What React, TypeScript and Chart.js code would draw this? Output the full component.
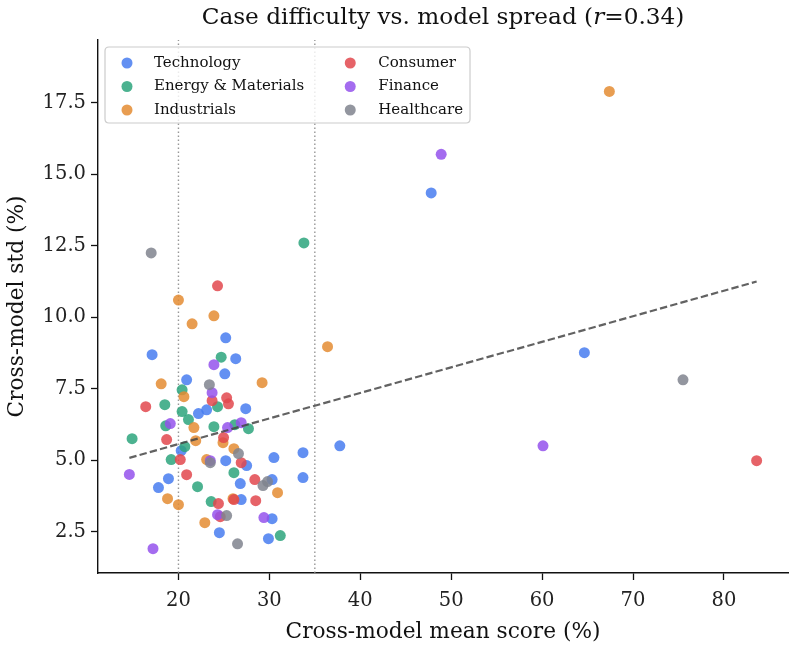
import React, { useEffect, useRef } from 'react';
import { Chart, registerables } from 'chart.js';
Chart.register(...registerables);

// ---- Data ----
const categories = ['Technology', 'Energy & Materials', 'Industrials', 'Consumer', 'Finance', 'Healthcare'];

const techMean = [47.8, 64.65, 37.75, 33.7, 33.7, 30.5, 17.1, 20.9, 25.2, 26.3, 25.1, 27.4, 22.2, 23.1, 20.3, 18.9, 17.8, 25.2, 27.5, 26.8, 30.3, 26.9, 30.3, 24.5, 29.9];
const techStd = [14.35, 8.76, 5.5, 5.26, 4.39, 5.09, 8.69, 7.81, 9.28, 8.55, 8.02, 6.8, 6.63, 6.76, 5.33, 4.35, 4.04, 4.98, 4.81, 4.18, 4.32, 3.62, 2.95, 2.46, 2.25];

const energyMean = [33.8, 14.9, 18.5, 20.4, 20.4, 21.1, 18.6, 23.9, 24.3, 19.2, 20.7, 22.1, 26.1, 23.6, 31.2, 26.2, 27.7, 24.7];
const energyStd = [12.6, 5.75, 6.94, 7.46, 6.7, 6.42, 6.2, 6.17, 6.87, 5.02, 5.47, 4.07, 4.56, 3.55, 2.36, 6.24, 6.1, 8.6];

const indMean = [67.4, 36.4, 20.0, 23.9, 21.5, 29.2, 18.1, 20.6, 21.7, 21.9, 23.1, 24.9, 26.1, 26.0, 30.9, 18.8, 20.0, 22.9];
const indStd = [17.9, 8.97, 10.6, 10.05, 9.77, 7.71, 7.67, 7.22, 6.14, 5.68, 5.02, 5.61, 5.4, 3.65, 3.86, 3.65, 3.44, 2.81];

const conMean = [83.6, 24.3, 16.4, 18.7, 20.2, 23.7, 25.3, 25.5, 24.96, 26.9, 20.9, 28.4, 28.5, 26.1, 24.4, 24.6];
const conStd = [4.98, 11.1, 6.87, 5.72, 5.02, 7.08, 7.18, 6.97, 5.79, 4.91, 4.49, 4.32, 3.58, 3.62, 3.48, 3.02];

const finMean = [48.9, 60.1, 14.6, 17.2, 19.1, 23.9, 23.7, 25.4, 26.9, 23.5, 24.3, 29.4];
const finStd = [15.7, 5.5, 4.5, 1.9, 6.28, 8.34, 7.36, 6.14, 6.31, 4.98, 3.09, 2.99];

const hcMean = [17.0, 75.5, 23.4, 26.6, 29.3, 29.8, 25.3, 26.5, 23.5];
const hcStd = [12.25, 7.81, 7.64, 5.23, 4.11, 4.25, 3.06, 2.07, 4.91];

const trendX = [14.6, 83.6];
const trendY = [5.08, 11.25];

const refLinesX = [20, 35];

const xTicks = [20, 30, 40, 50, 60, 70, 80];
const yTicks = [2.5, 5.0, 7.5, 10.0, 12.5, 15.0, 17.5];

const X_MIN = 11.15, X_MAX = 87.05, Y_MIN = 1.05, Y_MAX = 19.7;

const TITLE_PRE = 'Case difficulty vs. model spread (';
const TITLE_R = 'r';
const TITLE_POST = '=0.34)';
const X_LABEL = 'Cross-model mean score (%)';
const Y_LABEL = 'Cross-model std (%)';

const colors = [
  'rgba(72,125,240,0.85)',
  'rgba(45,165,125,0.85)',
  'rgba(228,140,50,0.85)',
  'rgba(226,72,78,0.85)',
  'rgba(148,82,236,0.85)',
  'rgba(128,132,142,0.85)',
];

const seriesX = [techMean, energyMean, indMean, conMean, finMean, hcMean];
const seriesY = [techStd, energyStd, indStd, conStd, finStd, hcStd];

const FONT = '"DejaVu Serif", serif';

const titlePlugin = {
  id: 'mixedTitle',
  afterDraw(chart: any) {
    const { ctx, chartArea } = chart;
    const size = 23.2;
    const parts = [
      { t: TITLE_PRE, f: `${size}px ${FONT}` },
      { t: TITLE_R, f: `italic ${size}px ${FONT}` },
      { t: TITLE_POST, f: `${size}px ${FONT}` },
    ];
    ctx.save();
    const widths = parts.map((p) => { ctx.font = p.f; return ctx.measureText(p.t).width; });
    const total = widths.reduce((a, b) => a + b, 0);
    let x = (chartArea.left + chartArea.right) / 2 - total / 2;
    ctx.textBaseline = 'middle';
    ctx.textAlign = 'left';
    ctx.fillStyle = '#111';
    parts.forEach((p, i) => {
      ctx.font = p.f;
      ctx.fillText(p.t, x, 18);
      x += widths[i];
    });
    ctx.restore();
  },
};

const legendPlugin = {
  id: 'customLegend',
  afterDraw(chart: any) {
    const { ctx, chartArea } = chart;
    const fsize = 15;
    ctx.save();
    ctx.font = `${fsize}px ${FONT}`;
    const left = chartArea.left + 7;
    const top = chartArea.top + 7;
    const rowH = 23.5;
    const col1 = [0, 1, 2];
    const col2 = [3, 4, 5];
    const w1 = Math.max(...col1.map((i) => ctx.measureText(categories[i]).width));
    const w2 = Math.max(...col2.map((i) => ctx.measureText(categories[i]).width));
    const marker1 = left + 22;
    const text1 = left + 49;
    const marker2 = text1 + w1 + 46;
    const text2 = marker2 + 28;
    const right = text2 + w2 + 7;
    const bottom = top + 76;
    const r = 4;
    ctx.beginPath();
    ctx.moveTo(left + r, top);
    ctx.lineTo(right - r, top);
    ctx.quadraticCurveTo(right, top, right, top + r);
    ctx.lineTo(right, bottom - r);
    ctx.quadraticCurveTo(right, bottom, right - r, bottom);
    ctx.lineTo(left + r, bottom);
    ctx.quadraticCurveTo(left, bottom, left, bottom - r);
    ctx.lineTo(left, top + r);
    ctx.quadraticCurveTo(left, top, left + r, top);
    ctx.closePath();
    ctx.fillStyle = 'rgba(255,255,255,0.8)';
    ctx.fill();
    ctx.strokeStyle = '#cccccc';
    ctx.lineWidth = 1.2;
    ctx.stroke();
    ctx.textBaseline = 'middle';
    ctx.textAlign = 'left';
    const drawItem = (i: number, mx: number, tx: number, row: number) => {
      const y = top + 16 + row * rowH;
      ctx.beginPath();
      ctx.arc(mx, y, 5.5, 0, Math.PI * 2);
      ctx.fillStyle = colors[i];
      ctx.fill();
      ctx.fillStyle = '#111';
      ctx.fillText(categories[i], tx, y);
    };
    col1.forEach((i, row) => drawItem(i, marker1, text1, row));
    col2.forEach((i, row) => drawItem(i, marker2, text2, row));
    ctx.restore();
  },
};

export default function App() {
  const ref = useRef<HTMLCanvasElement>(null);
  useEffect(() => {
    document.body.style.margin = '0';
    const canvas = ref.current!;
    const datasets: any[] = [];
    refLinesX.forEach((v) => {
      datasets.push({
        type: 'line',
        data: [{ x: v, y: Y_MIN }, { x: v, y: Y_MAX }],
        borderColor: 'rgba(140,140,140,0.9)',
        borderWidth: 1.4,
        borderDash: [1.4, 2.6],
        pointRadius: 0,
        fill: false,
        order: 20,
      });
    });
    categories.forEach((c, i) => {
      datasets.push({
        type: 'scatter',
        label: c,
        data: seriesX[i].map((x, j) => ({ x, y: seriesY[i][j] })),
        backgroundColor: colors[i],
        borderWidth: 0,
        pointRadius: 5.5,
        order: 10 - i,
      });
    });
    datasets.push({
      type: 'line',
      data: trendX.map((x, j) => ({ x, y: trendY[j] })),
      borderColor: 'rgba(70,70,70,0.85)',
      borderWidth: 2.2,
      borderDash: [7.4, 3.2],
      pointRadius: 0,
      fill: false,
      order: 0,
    });

    const chart = new Chart(canvas, {
      type: 'scatter',
      data: { datasets },
      options: {
        animation: false,
        responsive: false,
        maintainAspectRatio: false,
        layout: { padding: { top: 40, right: 7, left: 0, bottom: 0 } },
        plugins: { legend: { display: false }, tooltip: { enabled: false }, title: { display: false } },
        scales: {
          x: {
            type: 'linear',
            min: X_MIN,
            max: X_MAX,
            afterFit: (s: any) => { s.height = 75; },
            afterBuildTicks: (s: any) => { s.ticks = xTicks.map((v) => ({ value: v })); },
            grid: { display: true, drawOnChartArea: false, drawTicks: true, tickLength: 7, tickColor: '#111', tickWidth: 1.3 },
            border: { display: true, color: '#111', width: 1.4 },
            ticks: { color: '#222', font: { family: FONT, size: 19.5 }, padding: 9, maxRotation: 0, callback: (v: any) => String(v) },
            title: { display: true, text: X_LABEL, color: '#111', font: { family: FONT, size: 21.7 }, padding: { top: 0, bottom: 3 } },
          },
          y: {
            type: 'linear',
            min: Y_MIN,
            max: Y_MAX,
            afterFit: (s: any) => { s.width = 98; },
            afterBuildTicks: (s: any) => { s.ticks = yTicks.map((v) => ({ value: v })); },
            grid: { display: true, drawOnChartArea: false, drawTicks: true, tickLength: 7, tickColor: '#111', tickWidth: 1.3 },
            border: { display: true, color: '#111', width: 1.4 },
            ticks: { color: '#222', font: { family: FONT, size: 19.5 }, padding: 5, callback: (v: any) => Number(v).toFixed(1) },
            title: { display: true, text: Y_LABEL, color: '#111', font: { family: FONT, size: 21.7 }, padding: { top: 4, bottom: 0 } },
          },
        },
      },
      plugins: [titlePlugin, legendPlugin],
    } as any);
    return () => chart.destroy();
  }, []);
  return <canvas ref={ref} width={795} height={648} style={{ display: 'block', width: 795, height: 648 }} />;
}
